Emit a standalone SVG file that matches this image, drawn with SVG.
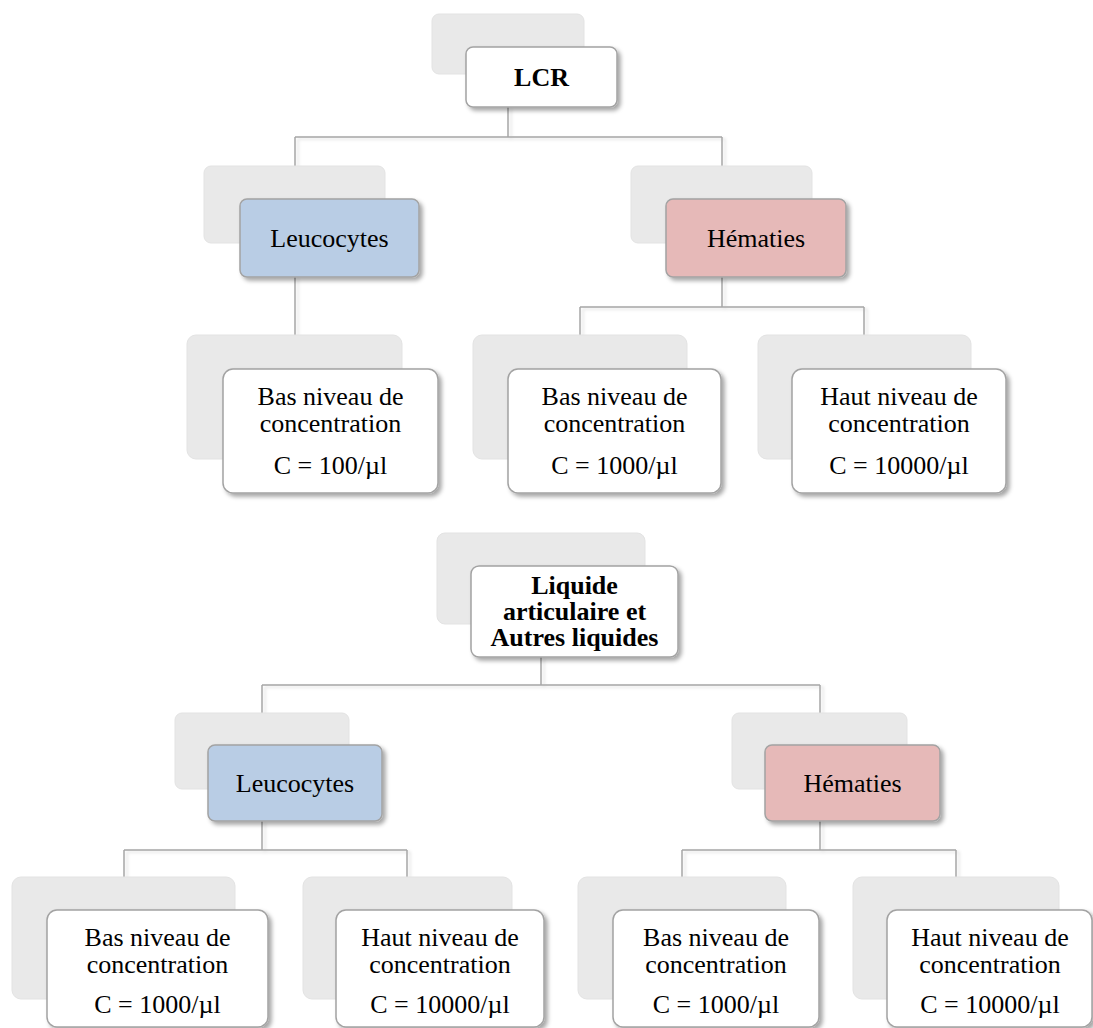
<svg xmlns="http://www.w3.org/2000/svg" width="1093" height="1028" viewBox="0 0 1093 1028">
<defs>
<filter id="sh" x="-10%" y="-10%" width="130%" height="140%">
<feDropShadow dx="3" dy="3" stdDeviation="2.2" flood-color="#000" flood-opacity="0.35"/>
</filter>
<filter id="lsh" x="-50%" y="-50%" width="200%" height="200%">
<feDropShadow dx="3" dy="2" stdDeviation="1.5" flood-color="#000" flood-opacity="0.12"/>
</filter>
</defs>
<style>
.back{fill:#e9e9e9;stroke:#e3e3e3;stroke-width:1}
.front{stroke:#a3a3a3;stroke-width:1.5;filter:url(#sh)}
.w{fill:#ffffff}
.b{fill:#b9cde5}
.r{fill:#e6b9b8}
text{font-family:"Liberation Serif","Times New Roman",serif;font-size:26px;fill:#000;text-anchor:middle}
.bold{font-weight:bold}
.conn line{stroke:#a6a6a6;stroke-width:1.5;fill:none}
</style>
<rect width="1093" height="1028" fill="#ffffff"/>
<g class="conn" filter="url(#lsh)">
<line x1="508" y1="107" x2="508" y2="137"/>
<line x1="295" y1="137" x2="722" y2="137"/>
<line x1="295" y1="137" x2="295" y2="166"/>
<line x1="722" y1="137" x2="722" y2="166"/>
<line x1="295" y1="277" x2="295" y2="335"/>
<line x1="722" y1="277" x2="722" y2="307"/>
<line x1="580" y1="307" x2="864" y2="307"/>
<line x1="580" y1="307" x2="580" y2="335"/>
<line x1="864" y1="307" x2="864" y2="335"/>
<line x1="541" y1="657" x2="541" y2="685"/>
<line x1="262" y1="685" x2="820" y2="685"/>
<line x1="262" y1="685" x2="262" y2="713"/>
<line x1="820" y1="685" x2="820" y2="713"/>
<line x1="262" y1="821" x2="262" y2="850"/>
<line x1="124" y1="850" x2="407" y2="850"/>
<line x1="124" y1="850" x2="124" y2="877"/>
<line x1="407" y1="850" x2="407" y2="877"/>
<line x1="820" y1="821" x2="820" y2="850"/>
<line x1="682" y1="850" x2="956" y2="850"/>
<line x1="682" y1="850" x2="682" y2="877"/>
<line x1="956" y1="850" x2="956" y2="877"/>
</g>
<g id="lcr">
<rect class="back" x="432" y="14" width="152" height="60" rx="7"/>
<rect class="front w" x="466" y="47" width="151" height="60" rx="7"/>
<text class="bold" x="541.5" y="86">LCR</text>
</g>
<g id="leuco1">
<rect class="back" x="204" y="166" width="181" height="77" rx="7"/>
<rect class="front b" x="240" y="199" width="179" height="78" rx="7"/>
<text x="329.5" y="247">Leucocytes</text>
</g>
<g id="hema1">
<rect class="back" x="631" y="166" width="181" height="77" rx="7"/>
<rect class="front r" x="666" y="199" width="180" height="78" rx="7"/>
<text x="756" y="247">Hématies</text>
</g>
<g id="l1bas">
<rect class="back" x="187" y="335" width="215" height="124" rx="9"/>
<rect class="front w" x="223" y="369" width="215" height="124" rx="10"/>
<text x="330.5" y="405">Bas niveau de</text>
<text x="330.5" y="432">concentration</text>
<text x="330.5" y="474">C = 100/µl</text>
</g>
<g id="h1bas">
<rect class="back" x="473" y="335" width="214" height="124" rx="9"/>
<rect class="front w" x="508" y="369" width="213" height="124" rx="10"/>
<text x="614.5" y="405">Bas niveau de</text>
<text x="614.5" y="432">concentration</text>
<text x="614.5" y="474">C = 1000/µl</text>
</g>
<g id="h1haut">
<rect class="back" x="758" y="335" width="213" height="124" rx="9"/>
<rect class="front w" x="792" y="369" width="214" height="124" rx="10"/>
<text x="899" y="405">Haut niveau de</text>
<text x="899" y="432">concentration</text>
<text x="899" y="474">C = 10000/µl</text>
</g>
<g id="liquide">
<rect class="back" x="437" y="533" width="208" height="91" rx="8"/>
<rect class="front w" x="471" y="566" width="207" height="91" rx="8"/>
<text class="bold" x="574.5" y="594">Liquide</text>
<text class="bold" x="574.5" y="620">articulaire et</text>
<text class="bold" x="574.5" y="646">Autres liquides</text>
</g>
<g id="leuco2">
<rect class="back" x="175" y="713" width="174" height="76" rx="7"/>
<rect class="front b" x="208" y="745" width="174" height="76" rx="7"/>
<text x="295" y="792">Leucocytes</text>
</g>
<g id="hema2">
<rect class="back" x="732" y="713" width="175" height="76" rx="7"/>
<rect class="front r" x="765" y="745" width="175" height="76" rx="7"/>
<text x="852.5" y="792">Hématies</text>
</g>
<g id="l2bas">
<rect class="back" x="12" y="877" width="223" height="122" rx="9"/>
<rect class="front w" x="47" y="910" width="221" height="117" rx="10"/>
<text x="157.5" y="946">Bas niveau de</text>
<text x="157.5" y="973">concentration</text>
<text x="157.5" y="1013">C = 1000/µl</text>
</g>
<g id="l2haut">
<rect class="back" x="303" y="877" width="209" height="122" rx="9"/>
<rect class="front w" x="336" y="910" width="208" height="117" rx="10"/>
<text x="440" y="946">Haut niveau de</text>
<text x="440" y="973">concentration</text>
<text x="440" y="1013">C = 10000/µl</text>
</g>
<g id="h2bas">
<rect class="back" x="578" y="877" width="208" height="122" rx="9"/>
<rect class="front w" x="613" y="910" width="206" height="117" rx="10"/>
<text x="716" y="946">Bas niveau de</text>
<text x="716" y="973">concentration</text>
<text x="716" y="1013">C = 1000/µl</text>
</g>
<g id="h2haut">
<rect class="back" x="853" y="877" width="206" height="122" rx="9"/>
<rect class="front w" x="887" y="910" width="205" height="117" rx="10"/>
<text x="990" y="946">Haut niveau de</text>
<text x="990" y="973">concentration</text>
<text x="990" y="1013">C = 10000/µl</text>
</g>
</svg>
